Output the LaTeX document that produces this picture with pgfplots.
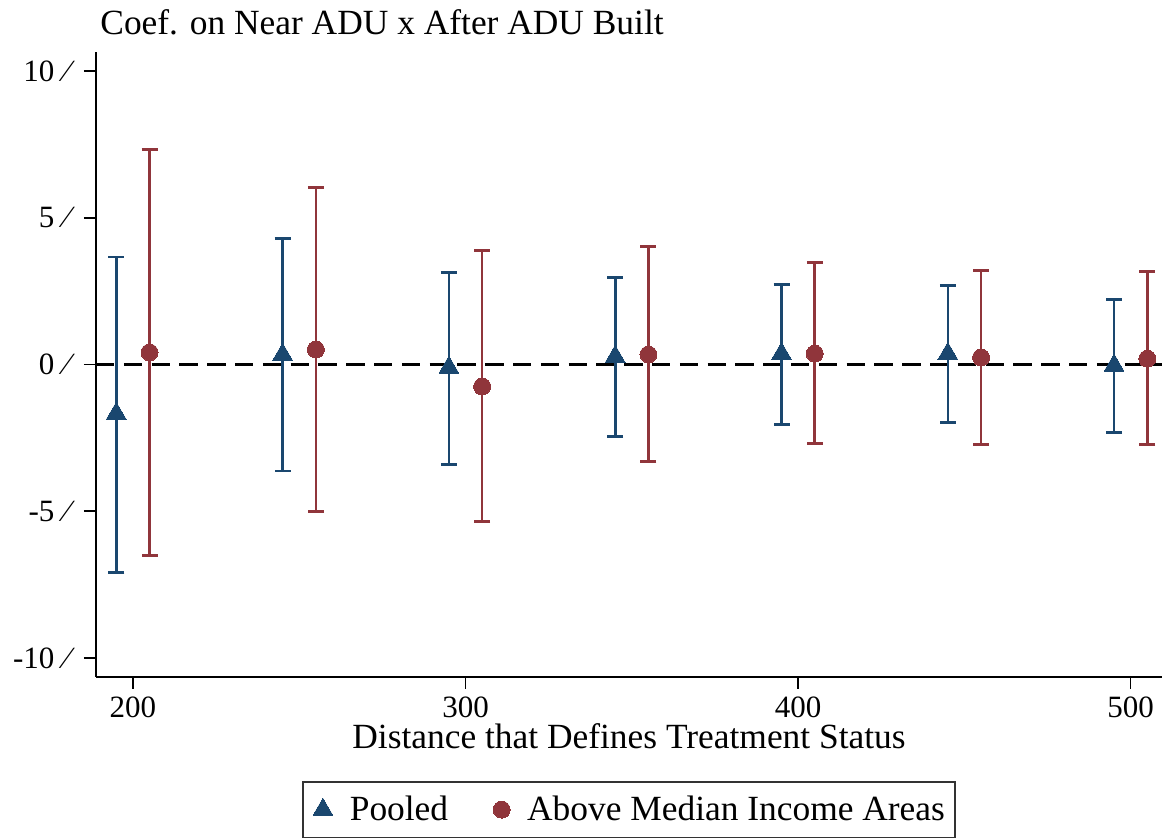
\documentclass[border=0pt]{standalone}
\usepackage{pgfplots}
\pgfplotsset{compat=1.18}
\usepackage{fontspec}
\setmainfont{Liberation Serif}
\definecolor{navy}{RGB}{26,71,111}
\definecolor{maroon}{RGB}{144,53,59}

\pgfplotstableread{
x y ep em
195 -1.67 5.33 5.42
245 0.34 3.96 3.97
295 -0.10 3.23 3.31
345 0.27 2.69 2.72
395 0.37 2.35 2.41
445 0.37 2.32 2.35
495 -0.03 2.24 2.28
}\pooled
\pgfplotstableread{
x y ep em
205 0.41 6.92 6.92
255 0.51 5.52 5.51
305 -0.75 4.63 4.60
355 0.34 3.68 3.64
405 0.37 3.10 3.06
455 0.24 2.96 2.97
505 0.20 2.97 2.93
}\above

\begin{document}
\begin{tikzpicture}[font=\fontsize{17.7pt}{21pt}\selectfont]
\begin{axis}[
  at={(0,0)}, anchor=south west,
  scale only axis, width=533pt, height=312.5pt,
  xmin=188.9, xmax=509.4, ymin=-10.65, ymax=10.65,
  axis lines*=left,
  axis line style={-, line width=1.2pt, black},
  tick align=outside,
  major tick length=6pt,
  tick style={line width=0.75pt, black},
  xtick={200,300,400,500},
  ytick={-10,-5,0,5,10},
  yticklabels={-10\hspace{5pt}⁄,-5\hspace{5pt}⁄,0\hspace{5pt}⁄,5\hspace{5pt}⁄,10\hspace{5pt}⁄},
  /pgf/number format/assume math mode=true,
  ticklabel style={font=\fontsize{15.5pt}{18pt}\selectfont},
  xticklabel style={inner sep=0pt, yshift=-3.5pt},
  yticklabel style={inner sep=0pt, xshift=-7pt},
  xlabel={Distance that Defines Treatment Status},
  xlabel style={at={(axis description cs:0.5,0)}, anchor=base, inner sep=0pt, yshift=-36pt},
  clip=false,
  legend columns=2,
  legend cell align=left,
  legend style={at={(0.5,-0.1664)}, anchor=north, draw=black!80, line width=0.8pt,
    inner xsep=5pt, inner ysep=7pt, nodes={inner sep=0pt},
    /tikz/every odd column/.append style={column sep=8.5pt},
    /tikz/every even column/.append style={column sep=22.5pt},
    font=\fontsize{17.7pt}{21pt}\selectfont},
  legend image code/.code={\draw[mark repeat=2,mark phase=2,#1] plot coordinates {(0pt,0pt) (5pt,0pt) (10pt,0pt)};},
]
\addplot[black, line width=1.3pt, dash pattern=on 9.2pt off 4.7pt, forget plot] coordinates {(188.9,0) (509.4,0)};
\addplot[only marks, color=navy, mark=triangle*, mark size=5.7pt,
  mark options={solid, fill=navy, draw=navy, line width=0pt},
  error bars/.cd, y dir=both, y explicit, error mark=-,
  error bar style={line width=1.3pt, navy},
  error mark options={line width=1.3pt, mark size=4pt, navy, rotate=90}]
  table[x=x, y=y, y error plus=ep, y error minus=em] {\pooled};
\addlegendentry{Pooled}
\addplot[only marks, color=maroon, mark=*, mark size=4.25pt,
  mark options={solid, fill=maroon, draw=maroon, line width=0pt},
  error bars/.cd, y dir=both, y explicit, error mark=-,
  error bar style={line width=1.3pt, maroon},
  error mark options={line width=1.3pt, mark size=4pt, maroon, rotate=90}]
  table[x=x, y=y, y error plus=ep, y error minus=em] {\above};
\addlegendentry{Above Median Income Areas}
\end{axis}
\node[anchor=base west, inner sep=0pt] at (2pt,321pt) {Coef. on Near ADU x After ADU Built};
\pgfresetboundingbox
\path[use as bounding box] (-48pt,-80.5pt) rectangle (533pt,338.5pt);
\end{tikzpicture}
\end{document}
